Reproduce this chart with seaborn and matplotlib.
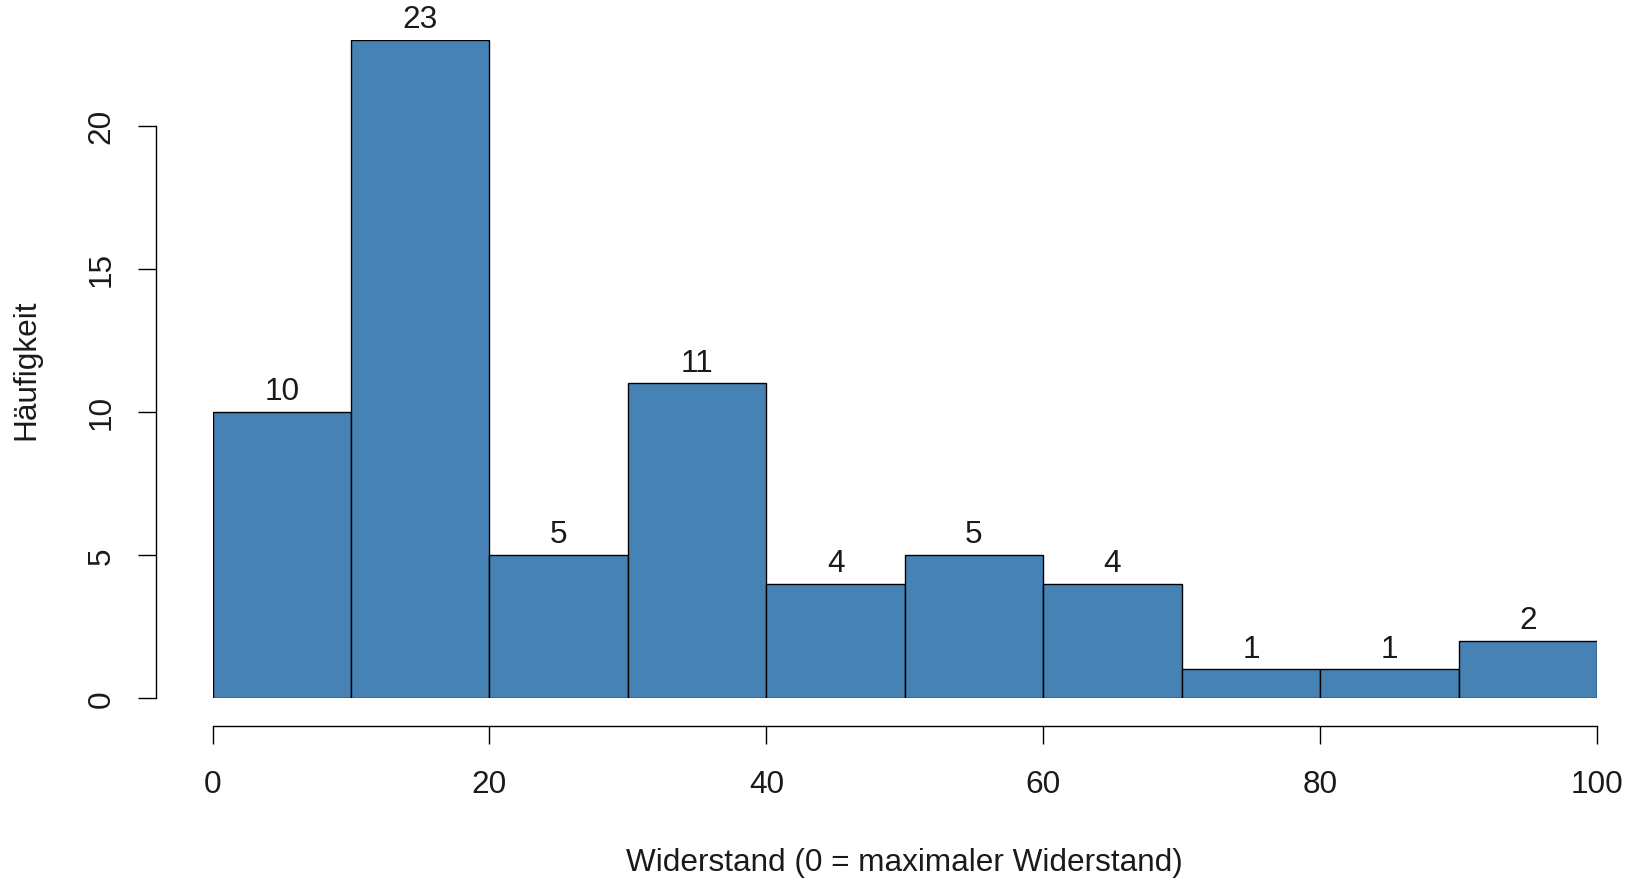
import matplotlib
matplotlib.use("Agg")
import matplotlib.pyplot as plt
import seaborn as sns
import numpy as np

bin_edges = [0, 10, 20, 30, 40, 50, 60, 70, 80, 90, 100]
counts = [10, 23, 5, 11, 4, 5, 4, 1, 1, 2]
x_ticks = [0, 20, 40, 60, 80, 100]
y_ticks = [0, 5, 10, 15, 20]
x_label = "Widerstand (0 = maximaler Widerstand)"
y_label = "Häufigkeit"

sns.set_style("white")
plt.rcParams['font.family'] = ['Liberation Sans', 'DejaVu Sans']

FS = 22.7
centers = [(a + b) / 2 for a, b in zip(bin_edges[:-1], bin_edges[1:])]

fig = plt.figure(figsize=(16.26, 8.79), dpi=100)
ax = fig.add_axes([212.6 / 1626, 1 - 699 / 879, (1597 - 212.6) / 1626, 658 / 879])

sns.histplot(x=centers, weights=counts, bins=bin_edges, color="#4682B4", alpha=1,
             edgecolor="black", linewidth=1.0, ax=ax)

ax.set_xlim(0, 100)
ax.set_ylim(0, 23)
ax.margins(0)

for c, v in zip(centers, counts):
    ax.annotate(str(v), (c, v), xytext=(0, 4), textcoords="offset points",
                ha="center", va="bottom", fontsize=FS, color="#1a1a1a",
                annotation_clip=False)

for s in ["top", "right"]:
    ax.spines[s].set_visible(False)
ax.spines["left"].set_position(("outward", 41))
ax.spines["bottom"].set_position(("outward", 20.2))
ax.spines["left"].set_bounds(0, 20)
ax.spines["bottom"].set_bounds(0, 100)
for s in ["left", "bottom"]:
    ax.spines[s].set_color("black")
    ax.spines[s].set_linewidth(1.0)

ax.set_xticks(x_ticks)
ax.set_yticks(y_ticks)
ax.set_yticklabels([str(t) for t in y_ticks], rotation=90, va="center")
ax.tick_params(axis="both", direction="out", length=13, width=1.0, color="black",
               labelsize=FS, labelcolor="#1a1a1a", left=True, bottom=True)
ax.tick_params(axis="x", pad=18)
ax.tick_params(axis="y", pad=15)

ax.set_xlabel(x_label, fontsize=FS, color="#1a1a1a")
ax.set_ylabel(y_label, fontsize=FS, color="#1a1a1a")
ax.xaxis.set_label_coords(0.5, -(863 - 699) / 658)
ax.yaxis.set_label_coords(-(212.6 - 26) / (1597 - 212.6), 0.5)
ax.xaxis.label.set_va("center")
ax.yaxis.label.set_va("center")

fig.savefig("out.png", dpi=100, facecolor="white")
